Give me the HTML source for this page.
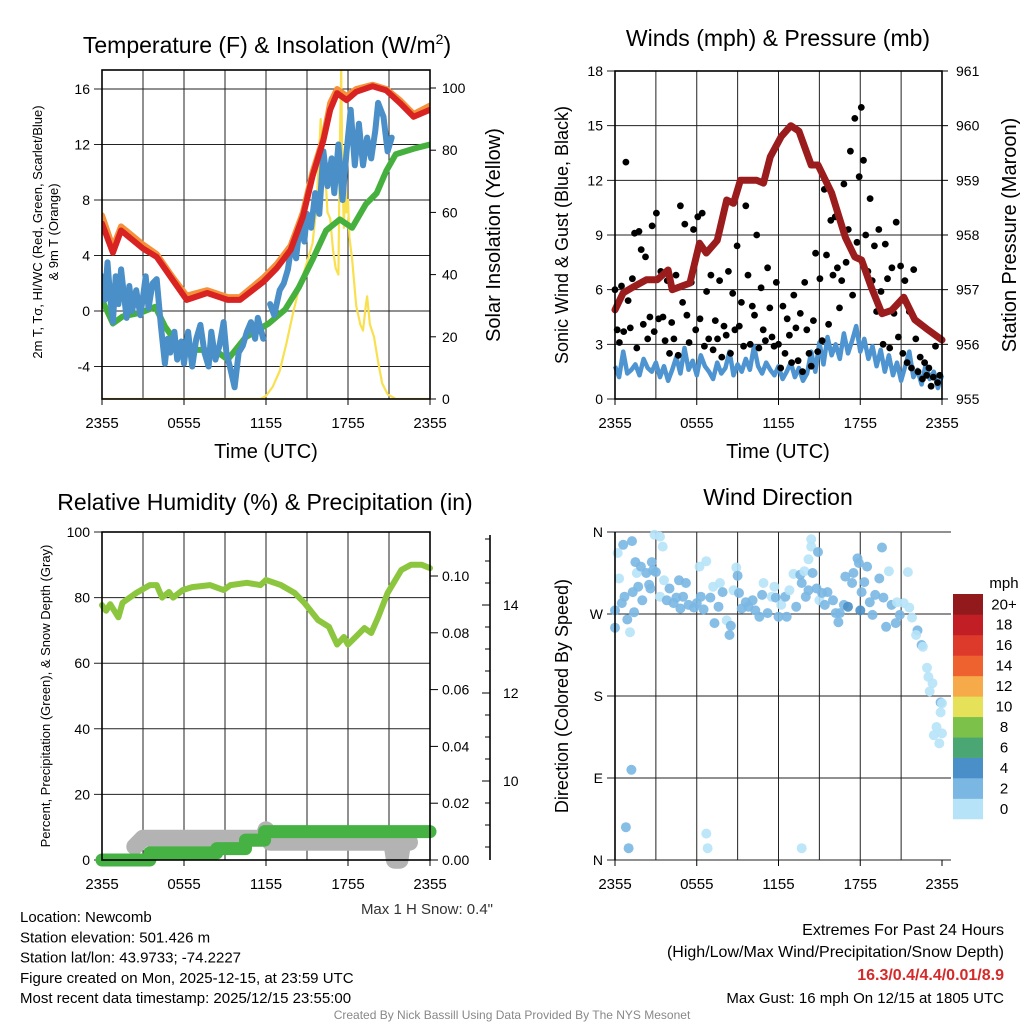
<!DOCTYPE html>
<html><head><meta charset="utf-8">
<style>
html,body{margin:0;padding:0;background:#fff;}
svg{display:block;font-family:"Liberation Sans",Arial,sans-serif;}
</style></head>
<body>
<svg id="c" width="1024" height="1024" viewBox="0 0 1024 1024" xmlns="http://www.w3.org/2000/svg"></svg>
<script>
// ---------- DATA ----------
const tempHours=[0,0.8,1.4,3.0,4.0,5.2,6.2,7.7,9.2,10.1,11.8,12.8,13.8,14.7,15.4,16.2,16.7,17.2,17.9,18.6,19.8,20.8,21.8,22.8,24];
const tempRed=[6.3,4.2,5.8,4.5,3.9,2.2,0.8,1.3,0.8,0.8,2.1,3.1,4.4,6.8,9.7,12.3,14.5,15.7,15.2,15.8,16.2,15.9,15.0,14.0,14.5];
const tempOrange=[6.9,4.6,6.1,4.8,4.1,2.4,1.1,1.5,1.0,1.0,2.4,3.4,4.7,7.1,10.0,12.5,15.0,16.0,15.5,16.0,16.3,16.0,15.2,14.2,14.8];
const dewHours=[0,0.8,1.5,2.9,3.9,4.6,5.8,7.3,8.5,9.2,10.5,12.2,13.4,14.4,15.4,16.4,17.4,18.3,19.3,20.1,20.8,21.5,22.8,24];
const dewGreen=[0.8,-0.9,-0.4,-0.1,0.3,-1.1,-2.8,-2.8,-3.0,-3.5,-1.9,-0.9,0.1,1.7,3.7,5.8,6.6,6.0,7.7,8.5,10.1,11.3,11.7,12.0];
const wcHours=[0,0.2,0.4,0.6,0.8,1.0,1.2,1.4,1.6,1.8,2.0,2.2,2.5,2.8,3.0,3.2,3.4,3.7,4.0,4.3,4.6,4.8,5.0,5.3,5.5,5.8,6.0,6.3,6.6,6.9,7.2,7.5,7.8,8.0,8.3,8.6,8.9,9.1,9.4,9.7,10.0,10.3,10.6,10.9,11.2,11.4,11.8,12.0,12.3,12.6,13.0,13.3,13.6,13.9,14.2,14.5,14.8,15.0,15.3,15.6,15.9,16.2,16.5,16.8,17.0,17.3,17.6,17.9,18.2,18.5,18.8,19.1,19.4,19.7,20.0,20.2,20.6,20.9,21.2];
const wcBlue=[2.5,0.8,3.5,1.0,-0.8,2.5,0.5,3.0,1.2,-0.5,1.8,0,1.5,-0.3,1.0,2.5,0.2,2.0,2.3,-1.0,-3.8,-2.0,-3.0,-1.5,-3.5,-2.2,-3.8,-1.5,-4.0,-2.0,-1.0,-3.0,-4.0,-1.5,-3.5,-2.5,-0.8,-3.0,-4.2,-5.5,-3.0,-2.5,-1.5,-0.8,-2.0,-0.5,-2.0,null,0.5,-0.3,1.5,2.0,3.0,5.0,3.8,6.5,5.0,7.0,6.0,8.5,7.0,11.5,9.0,11.0,8.5,12.0,8.0,11.5,14.5,10.5,13.5,10.5,12.5,11.0,13.0,15.0,14.0,11.5,12.5];
const solarHours=[0,11.6,12.0,12.5,13.0,13.5,14.0,14.5,15.0,15.4,15.7,16.0,16.15,16.3,16.5,16.7,16.9,17.1,17.3,17.4,17.5,17.6,17.7,17.8,17.9,18.0,18.1,18.3,18.6,18.9,19.1,19.3,19.4,19.6,19.9,20.2,20.5,20.9,21.5,24];
const solarVals=[0,0,1,4,9,18,28,37,44,50,62,90,70,75,60,58,48,42,40,80,106,70,55,70,60,64,52,45,30,24,22,30,33,24,20,12,5,1.5,0,0];

const presHours=[0,0.6,1.35,2.3,3.1,3.9,4.2,5.5,6.2,6.7,7.5,8.2,8.7,9.2,10.4,10.9,11.4,12.2,12.9,13.5,14.4,14.9,15.9,16.9,17.6,18.1,18.8,19.6,20.3,21.2,22.0,23.0,24];
const presVals=[956.63,956.94,957.05,957.18,957.18,957.36,957.0,957.12,957.85,957.67,957.9,958.64,958.58,959.0,959.0,958.95,959.43,959.8,960.0,959.9,959.28,959.28,958.77,957.96,957.6,957.54,957.05,956.56,956.62,956.86,956.45,956.26,956.08];
const windStep=0.3;
const windVals=[1.8,1.2,2.6,1.4,1.6,1.9,1.3,2.2,1.7,1.5,2.0,1.2,1.8,1.0,1.6,2.3,1.4,2.8,1.6,2.1,1.3,2.4,1.8,1.5,1.1,2.0,1.4,1.7,2.6,1.3,1.9,1.5,2.2,1.6,2.9,1.8,1.4,2.0,1.6,1.3,1.8,1.1,1.5,2.0,1.2,1.7,1.0,1.4,2.6,1.5,3.1,1.9,3.4,2.4,3.0,2.2,3.6,2.5,3.2,4.0,2.6,3.3,2.2,2.9,1.8,2.7,1.5,2.4,1.3,2.0,1.0,1.8,2.6,1.2,1.6,0.8,1.9,1.1,1.5,0.6,1.3];
const gustStep=0.16;
const gustVals=[6.0,3.8,3.1,6.2,3.7,13.0,5.4,3.9,6.6,9.1,2.8,9.2,8.2,4.1,7.8,3.3,4.5,9.5,3.7,10.2,4.4,7.0,4.5,3.2,6.5,
2.5,4.2,3.3,6.8,2.4,10.6,5.3,9.6,4.6,3.1,6.4,9.3,3.8,10.0,4.4,10.2,2.9,5.9,3.3,6.8,2.7,4.3,3.3,6.5,2.3,
4.0,3.5,7.0,2.5,5.8,3.8,8.4,4.0,5.3,2.9,10.6,6.8,3.0,5.1,4.6,9.0,2.8,6.1,3.8,3.2,7.2,5.0,3.4,2.9,6.4,
3.0,1.7,5.1,2.5,4.4,3.5,2.0,5.7,3.9,2.1,4.7,1.5,6.4,3.8,2.5,1.8,4.3,8.0,2.6,6.6,3.2,11.5,7.9,4.1,9.8,
6.8,10.0,7.2,5.0,6.5,11.8,7.5,9.3,13.6,5.7,15.4,8.6,12.2,16.0,13.1,9.0,7.0,11.0,6.5,8.4,4.8,9.3,5.9,3.0,8.5,
6.6,2.8,7.2,4.7,9.7,3.4,7.3,2.5,6.5,2.0,4.8,1.7,7.1,3.3,1.5,2.3,1.1,2.0,1.3,1.7,0.7,1.2,2.9,0.9,1.3];

const rhHours=[0,0.3,0.6,1.2,1.5,2.5,3.5,4.0,4.4,4.9,5.2,5.9,6.6,7.9,8.9,9.4,10.6,11.6,12.0,13.1,14.1,14.8,15.8,16.6,17.2,17.7,18.0,18.7,19.2,19.7,20.2,20.9,21.9,22.6,23.4,24];
const rhVals=[77.7,76,78,74,78.4,81.4,83.8,83.8,80,81.7,80,82.3,83.2,83.8,82.3,83.8,84.5,83.8,85.4,83.8,81.4,78.4,73.2,71.1,65.7,68,65.7,68.6,70.7,69.2,74,81.4,88.4,90,90,89];
const precipHours=[0,3.5,3.5,8.4,8.4,10.5,10.5,11.9,11.9,24];
const precipVals=[0,0,0.0025,0.0025,0.004,0.004,0.007,0.007,0.01,0.01];
const snowHours=[2.4,3.0,11.8,12.0,12.3,21.2,21.4,21.8,22.0,22.5];
const snowVals=[8.51,8.70,8.70,8.89,8.61,8.61,8.2,8.2,8.61,8.61];

const dirHours=[0,0,0.2,0.3,0.6,0.5,0.9,1.1,1.25,0.7,1.3,1.4,1.5,1.6,1.7,1.9,2.0,2.3,2.5,2.7,2.8,3.0,2.6,2.9,3.3,3.5,3.6,3.3,3.8,4.0,4.3,4.5,4.7,4.8,5.0,5.2,5.4,5.8,6.0,6.3,6.2,6.7,6.5,7.0,7.2,7.3,7.6,7.7,7.9,8.2,8.4,8.5,8.7,8.9,9.0,9.1,9.3,9.6,9.8,10.1,10.3,10.6,10.8,10.9,11.2,11.5,11.7,11.8,12.0,12.2,12.5,12.6,12.8,13.1,13.3,13.6,13.7,13.9,14.0,14.2,14.2,14.4,14.4,14.5,14.9,14.8,15.0,15.2,15.4,15.6,16.0,16.2,16.4,16.5,16.8,16.9,17.1,17.4,17.5,17.8,17.9,18.0,18.1,18.3,18.5,18.7,18.9,19.1,19.4,19.6,19.7,19.9,20.1,20.3,20.6,20.7,20.9,21.2,21.5,21.6,21.8,22.2,22.1,22.5,22.6,22.9,23.0,23.3,23.1,23.9,24,23.9,23.6,23.4,23.8,24,1.2,0.8,1.0,6.7,6.8,13.7];
const dirDeg=[255,274,337,309,346,282,264,250,350,289,294,272,327,315,300,322,285,315,302,327,318,316,298,357,355,344,307,289,285,298,282,288,307,276,289,304,280,277,282,289,322,328,275,288,300,260,278,304,294,263,247,257,296,321,312,293,276,283,278,285,274,267,291,304,271,289,300,288,267,280,289,267,296,314,278,313,304,317,289,296,330,344,352,315,338,298,285,293,280,294,285,271,261,271,280,311,278,304,315,331,326,274,294,305,322,283,269,291,309,343,288,256,317,280,260,283,269,282,316,277,266,252,247,236,234,211,201,194,185,173,172,162,146,137,128,139,99,36,13,29,13,13];
const dirSpeed=[2.5,2.5,1.5,1.5,2.5,2,2.5,1,2.5,2.5,2.5,2.5,2,1.5,2.5,2.5,2.5,2.5,2.5,2.5,2.5,3,2.5,1,1,1,1,1,2.5,2.5,2.5,2.5,3,2.5,2.5,3,2.5,2.5,2.5,2.5,1,1,2.5,2.5,1,2.5,2.5,1,2.5,1,3,2.5,1,1,3,2.5,2.5,2.5,2.5,2.5,2.5,2.5,3,1,2.5,1,1,3,2.5,1,2.5,2.5,1,1,2.5,2.5,3,1,2.5,2.5,1,1,1,2.5,3,2.5,1,2.5,2.5,2.5,2.5,3,2.5,3,2.5,2.5,4,2.5,2.5,2.5,2.5,4,3,2.5,2.5,2.5,3,2.5,2.5,2.5,2.5,2.5,1,2.5,2.5,1,2.5,1,1,1,1,2.5,1,3,1,1,1,1,1,3,1,1,1,1,1,1,2.5,2.5,2.5,1,1,1];

const xTickLabels=["2355","0555","1155","1755","2355"];
const cbLabels=["0","2","4","6","8","10","12","14","16","18","20+"];
const cbColors=["#b7e3f8","#7ab7e3","#4a8fc7","#4aa673","#7cc24a","#e5e25a","#f6aa4a","#ee6230","#dd3a2c","#c11f25","#921a1d"];

// ---------- HELPERS ----------
const svg=document.getElementById('c');
const NS="http://www.w3.org/2000/svg";
function mk(tag,attrs,name,parent){
  const el=document.createElementNS(NS,tag);
  for(const k in attrs) el.setAttribute(k,attrs[k]);
  
  
  (parent||svg).appendChild(el);
  return el;
}
function txt(x,y,s,size,name,opts){
  opts=opts||{};
  const el=mk('text',{x:x,y:y,'font-size':size,'text-anchor':opts.anchor||'middle',fill:opts.fill||'#000','font-weight':opts.weight||'normal'},name);
  if(opts.rot) el.setAttribute('transform','rotate('+opts.rot+' '+x+' '+y+')');
  el.textContent=s;
  return el;
}
function lin(a,b,c,d){return function(v){return c+(v-a)*(d-c)/(b-a);};}
function pathFrom(hs,vs,fx,fy){
  let d='',pen=false;
  for(let i=0;i<hs.length;i++){
    if(vs[i]===null||vs[i]===undefined){pen=false;continue;}
    d+=(pen?'L':'M')+fx(hs[i]).toFixed(1)+' '+fy(vs[i]).toFixed(1)+' ';
    pen=true;
  }
  return d;
}
function panelFrame(x0,x1,y0,y1,fy,yTicks,yLabels,name,gridRight){
  const fx=lin(0,24,x0,x1);
  for(let h=3;h<24;h+=3){
    mk('line',{x1:fx(h),x2:fx(h),y1:y0,y2:y1,stroke:'#222','stroke-width':1},name+'-vgrid');
  }
  yTicks.forEach(function(v,i){
    const y=fy(v);
    mk('line',{x1:x0-8,x2:gridRight||x1,y1:y,y2:y,stroke:'#222','stroke-width':1},name+'-hgrid');
    txt(x0-12,y+5,yLabels[i],14,name+'-y-tick-label',{anchor:'end'});
  });
  [0,6,12,18,24].forEach(function(h,i){
    mk('line',{x1:fx(h),x2:fx(h),y1:y1,y2:y1+6,stroke:'#000','stroke-width':1},name+'-x-tick');
    txt(fx(h),y1+29,xTickLabels[i],15,name+'-x-tick-label');
  });
  return fx;
}
function border(x0,x1,y0,y1,name){
  mk('rect',{x:x0,y:y0,width:x1-x0,height:y1-y0,fill:'none',stroke:'#000','stroke-width':1.6},name+'-border');
}

// ---------- PANEL 1 ----------
(function(){
  const x0=102,x1=430,y0=70,y1=399;
  const fy=lin(0,4,311,255.5);
  const fs=lin(0,100,399,88);
  const fx=panelFrame(x0,x1,y0,y1,fy,[16,12,8,4,0,-4],["16","12","8","4","0","-4"],'temp-panel');
  [0,20,40,60,80,100].forEach(function(v){
    mk('line',{x1:x1,x2:x1+6,y1:fs(v),y2:fs(v),stroke:'#000'},'solar-axis-tick');
    txt(x1+12,fs(v)+5,String(v),14,'solar-axis-label',{anchor:'start'});
  });
  const g=mk('g',{'clip-path':'url(#clip1)'},'temp-series');
  const cp=mk('clipPath',{id:'clip1'},'clip-1'); mk('rect',{x:x0,y:y0,width:x1-x0,height:y1-y0},'clip-rect',cp);
  mk('path',{d:pathFrom(solarHours,solarVals,fx,fs),fill:'none',stroke:'#f9e04e','stroke-width':2.2,'stroke-linejoin':'round'},'solar-insolation-line',g);
  mk('path',{d:pathFrom(dewHours,dewGreen,fx,fy),fill:'none',stroke:'#46b03f','stroke-width':6,'stroke-linejoin':'round','stroke-linecap':'round'},'dewpoint-green-line',g);
  mk('path',{d:pathFrom(wcHours,wcBlue,fx,fy),fill:'none',stroke:'#4a8fc7','stroke-width':6,'stroke-linejoin':'round','stroke-linecap':'round'},'windchill-blue-line',g);
  mk('path',{d:pathFrom(tempHours,tempOrange,fx,fy),fill:'none',stroke:'#f5913a','stroke-width':6,'stroke-linejoin':'round','stroke-linecap':'round'},'temp-9m-orange-line',g);
  mk('path',{d:pathFrom(tempHours,tempRed,fx,fy),fill:'none',stroke:'#d92222','stroke-width':6,'stroke-linejoin':'round','stroke-linecap':'round'},'temp-2m-red-line',g);
  border(x0,x1,y0,y1,'temp-panel');
  const t=txt(267,53,'Temperature (F) & Insolation (W/m',23,'temp-panel-title');
  const sup=document.createElementNS(NS,'tspan'); sup.setAttribute('font-size','14'); sup.setAttribute('dy','-9'); sup.textContent='2'; t.appendChild(sup);
  const cl=document.createElementNS(NS,'tspan'); cl.setAttribute('dy','9'); cl.textContent=')'; t.appendChild(cl);
  txt(42,232,'2m T, T\u03C3, HI/WC (Red, Green, Scarlet/Blue)',13,'temp-y-axis-title-line1',{rot:-90});
  txt(58,232,'& 9m T (Orange)',13,'temp-y-axis-title-line2',{rot:-90});
  txt(500,235,'Solar Insolation (Yellow)',20,'solar-y-axis-title',{rot:-90});
  txt(266,458,'Time (UTC)',20,'temp-x-axis-title');
})();

// ---------- PANEL 2 ----------
(function(){
  const x0=615,x1=942,y0=71,y1=399;
  const fy=lin(0,18,399,71);
  const fp=lin(955,961,399,71);
  const fx=panelFrame(x0,x1,y0,y1,fy,[18,15,12,9,6,3,0],["18","15","12","9","6","3","0"],'wind-panel');
  [955,956,957,958,959,960,961].forEach(function(v){
    mk('line',{x1:x1,x2:x1+6,y1:fp(v),y2:fp(v),stroke:'#000'},'pressure-axis-tick');
    txt(x1+14,fp(v)+5,String(v),14,'pressure-axis-label',{anchor:'start'});
  });
  const g=mk('g',{},'wind-series');
  const wh=windVals.map(function(_,i){return i*windStep;});
  mk('path',{d:pathFrom(wh,windVals,fx,fy),fill:'none',stroke:'#4d94d0','stroke-width':4.5,'stroke-linejoin':'round'},'sonic-wind-line',g);
  gustVals.forEach(function(v,i){
    mk('circle',{cx:fx(i*gustStep).toFixed(1),cy:fy(v).toFixed(1),r:3.4,fill:'#000'},'gust-point',g);
  });
  mk('path',{d:pathFrom(presHours,presVals,fx,fp),fill:'none',stroke:'#9b1c1c','stroke-width':7,'stroke-linejoin':'round','stroke-linecap':'round'},'pressure-line',g);
  border(x0,x1,y0,y1,'wind-panel');
  txt(778,46,'Winds (mph) & Pressure (mb)',23,'wind-panel-title');
  txt(568,235,'Sonic Wind & Gust (Blue, Black)',18,'wind-y-axis-title',{rot:-90});
  txt(1016,235,'Station Pressure (Maroon)',20,'pressure-y-axis-title',{rot:-90});
  txt(778,458,'Time (UTC)',20,'wind-x-axis-title');
})();

// ---------- PANEL 3 ----------
(function(){
  const x0=102,x1=430,y0=532,y1=860;
  const fy=lin(0,100,860,532);
  const fpr=lin(0,0.1,860,576);
  const fsn=lin(10,12,781,693);
  const fx=panelFrame(x0,x1,y0,y1,fy,[100,80,60,40,20,0],["100","80","60","40","20","0"],'rh-panel');
  [0,0.02,0.04,0.06,0.08,0.1].forEach(function(v){
    mk('line',{x1:x1,x2:x1+8,y1:fpr(v),y2:fpr(v),stroke:'#000'},'precip-axis-tick');
    txt(x1+12,fpr(v)+5,v.toFixed(2),14,'precip-axis-label',{anchor:'start'});
  });
  mk('line',{x1:490,x2:490,y1:535,y2:860,stroke:'#000','stroke-width':1.6},'snow-axis-line');
  for(let v=8.5;v<=15.5;v+=0.5){
    const major=(v%2===0);
    mk('line',{x1:490,x2:major?482:485,y1:fsn(v),y2:fsn(v),stroke:'#000'},'snow-axis-tick');
  }
  [10,12,14].forEach(function(v){txt(503,fsn(v)+5,String(v),14,'snow-axis-label',{anchor:'start'});});
  const g=mk('g',{},'rh-series');
  mk('path',{d:pathFrom(snowHours,snowVals,fx,fsn),fill:'none',stroke:'#b3b3b3','stroke-width':17,'stroke-linejoin':'round','stroke-linecap':'round'},'snow-depth-line',g);
  mk('path',{d:pathFrom(precipHours,precipVals,fx,fpr),fill:'none',stroke:'#46b244','stroke-width':13,'stroke-linejoin':'round','stroke-linecap':'round'},'precip-line',g);
  mk('path',{d:pathFrom(rhHours,rhVals,fx,fy),fill:'none',stroke:'#8cc63f','stroke-width':6,'stroke-linejoin':'round','stroke-linecap':'round'},'rh-line',g);
  border(x0,x1,y0,y1,'rh-panel');
  txt(265,510,'Relative Humidity (%) & Precipitation (in)',23,'rh-panel-title');
  txt(50,696,'Percent, Precipitation (Green), & Snow Depth (Gray)',13,'rh-y-axis-title',{rot:-90});
  txt(493,914,'Max 1 H Snow: 0.4"',15,'max-snow-note',{anchor:'end',fill:'#333'});
})();

// ---------- PANEL 4 ----------
(function(){
  const x0=615,x1=942,y0=532,y1=860;
  const fy=lin(0,360,860,532);
  const fx=panelFrame(x0,x1,y0,y1,fy,[360,270,180,90,0],["N","W","S","E","N"],'dir-panel',951);
  const g=mk('g',{},'dir-series');
  dirHours.forEach(function(h,i){
    const bin=Math.min(10,Math.floor(dirSpeed[i]/2));
    mk('circle',{cx:fx(h).toFixed(1),cy:fy(dirDeg[i]).toFixed(1),r:5,fill:cbColors[bin],'fill-opacity':0.9},'wind-direction-point',g);
  });
  mk('line',{x1:x0,x2:x0,y1:y0,y2:y1,stroke:'#000','stroke-width':1.6},'dir-panel-left-axis');
  txt(778,505,'Wind Direction',23,'dir-panel-title');
  txt(568,696,'Direction (Colored By Speed)',18,'dir-y-axis-title',{rot:-90});
  const by=819,bh=20.45;
  cbColors.forEach(function(c,i){
    mk('rect',{x:953,y:(by-(i+1)*bh).toFixed(1),width:30,height:bh+0.3,fill:c},'colorbar-box');
    txt(1004,by-i*bh-bh/2+5,cbLabels[i],15,'colorbar-label');
  });
  txt(1004,588,'mph',15,'colorbar-title');
})();

// ---------- FOOTER TEXT ----------
const infoLines=["Location: Newcomb","Station elevation: 501.426 m","Station lat/lon: 43.9733; -74.2227","Figure created on Mon, 2025-12-15, at 23:59 UTC","Most recent data timestamp: 2025/12/15 23:55:00"];
infoLines.forEach(function(s,i){txt(20,922+i*20.3,s,15,'station-info-line',{anchor:'start'});});
txt(1004,935,'Extremes For Past 24 Hours',16,'extremes-title',{anchor:'end'});
txt(1004,957,'(High/Low/Max Wind/Precipitation/Snow Depth)',16,'extremes-subtitle',{anchor:'end'});
txt(1004,980,'16.3/0.4/4.4/0.01/8.9',16,'extremes-values',{anchor:'end',fill:'#d42a2a',weight:'bold'});
txt(1004,1003,'Max Gust: 16 mph On 12/15 at 1805 UTC',15,'max-gust-note',{anchor:'end'});
txt(512,1019,'Created By Nick Bassill Using Data Provided By The NYS Mesonet',12,'credit-footer',{fill:'#888'});
</script>
</body></html>
